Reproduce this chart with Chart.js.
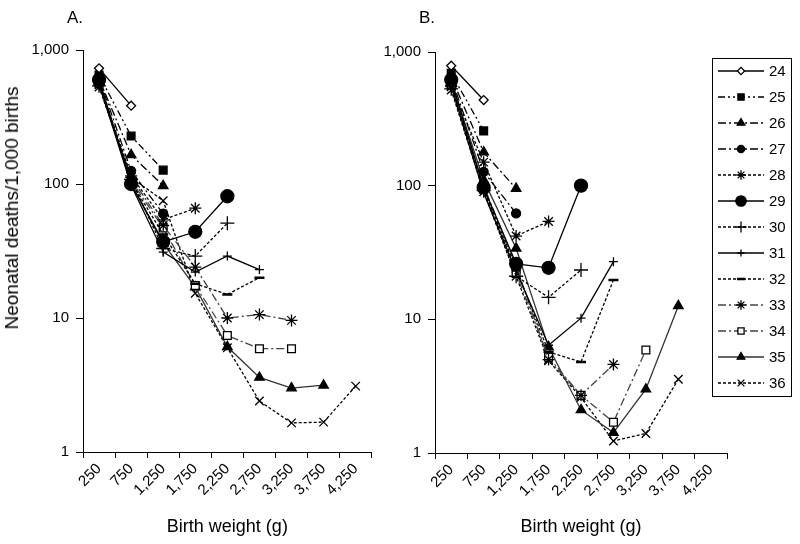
<!DOCTYPE html>
<html><head><meta charset="utf-8">
<script src="https://cdn.jsdelivr.net/npm/chart.js@4.4.0/dist/chart.umd.min.js"></script>
<style>
body{margin:0;background:#fff;width:800px;height:544px;overflow:hidden;position:relative;font-family:Arial,"Liberation Sans",sans-serif}
#wa{position:absolute;left:0;top:0;width:380px;height:544px}
#wb{position:absolute;left:380px;top:0;width:420px;height:544px}
.lab{position:absolute;font-size:17px;color:#000;line-height:20px}
#ytitle{position:absolute;left:12px;top:208px;font-size:19px;white-space:nowrap;color:#000;transform:translate(-50%,-50%) rotate(-90deg);line-height:22px}
</style></head><body>
<div id="wa"><canvas id="ca"></canvas></div>
<div id="wb"><canvas id="cb"></canvas></div>
<div class="lab" style="left:67px;top:8px">A.</div>
<div class="lab" style="left:419px;top:8px">B.</div>
<div id="ytitle">Neonatal deaths/1,000 births</div>
<script>
const weights = ['250','750','1,250','1,750','2,250','2,750','3,250','3,750','4,250'];
const gestAges = ['24','25','26','27','28','29','30','31','32','33','34','35','36'];
const yTicks = [1, 10, 100, 1000];

// Panel A values (deaths per 1,000 births)
const A24 = [730, 384];
const A25 = [650, 228, 127];
const A26 = [610, 165, 97];
const A27 = [620, 125, 60];
const A28 = [570, 115, 54, 66];
const A29 = [600, 100, 37, 44, 81];
const A30 = [540, 108, 33, 29, 51];
const A31 = [560, 98, 31, 22, 29, 23];
const A32 = [580, 104, 42, 18, 15, 20];
const A33 = [550, 112, 49, 24, 10, 10.6, 9.6];
const A34 = [560, 106, 47, 17.5, 7.4, 5.9, 5.9];
const A35 = [590, 100, 36, 17, 6.1, 3.6, 3.0, 3.15];
const A36 = [530, 112, 75, 15.3, 6.0, 2.4, 1.65, 1.67, 3.1];

// Panel B values
const B24 = [789, 437];
const B25 = [692, 257];
const B26 = [650, 178, 95];
const B27 = [640, 127, 62];
const B28 = [560, 150, 42, 54];
const B29 = [620, 97, 26, 24.3, 100];
const B30 = [530, 92, 21, 14.6, 23.4];
const B31 = [560, 88, 23, 6.4, 10.2, 27];
const B32 = [580, 95, 24, 5.7, 4.8, 19.7];
const B33 = [550, 100, 25, 5.0, 2.7, 4.6];
const B34 = [570, 96, 22, 5.2, 2.7, 1.7, 5.9];
const B35 = [600, 110, 34, 6.2, 2.1, 1.42, 3.0, 12.6];
const B36 = [520, 90, 21, 4.9, 2.6, 1.23, 1.40, 3.56];

const panelA = [A24,A25,A26,A27,A28,A29,A30,A31,A32,A33,A34,A35,A36];
const panelB = [B24,B25,B26,B27,B28,B29,B30,B31,B32,B33,B34,B35,B36];

const DD = [8,3,2,3], SD = [3,2];
const styles = [
  {ps:'rectRot', r:4.5, fill:'#fff', dash:[], col:'#000'},
  {ps:'rect', r:5.5, fill:'#000', dash:[7,3,2,3,2,3], col:'#000'},
  {ps:'triangle', r:5.5, fill:'#000', dash:DD, col:'#000'},
  {ps:'circle', r:4.5, fill:'#000', dash:DD, col:'#000'},
  {ps:'star', r:6, fill:'#000', dash:SD, col:'#000'},
  {ps:'circle', r:6.5, fill:'#000', dash:[], col:'#000'},
  {ps:'cross', r:7, fill:'#000', dash:SD, col:'#000'},
  {ps:'cross', r:4.5, fill:'#000', dash:[], col:'#000'},
  {ps:'line', r:5, fill:'#000', dash:SD, col:'#000', bw:2.5},
  {ps:'star', r:6, fill:'#000', dash:DD, col:'#444'},
  {ps:'rect', r:5.5, fill:'#fff', dash:DD, col:'#444'},
  {ps:'triangle', r:5.5, fill:'#000', dash:[], col:'#333'},
  {ps:'crossRot', r:6, fill:'#000', dash:SD, col:'#000'}
];

function makeDatasets(panel){
  return panel.map((vals,i)=>{
    const s = styles[i];
    const data = weights.map((w,j)=> vals[j]===undefined ? null : vals[j]);
    return {
      label: gestAges[i], data,
      borderColor: s.col, borderWidth: 1.3, borderDash: s.dash,
      pointStyle: s.ps, pointRadius: s.r, pointBorderColor:'#000',
      pointBackgroundColor: s.fill, pointBorderWidth: s.bw || 1.3,
      fill:false, tension:0, spanGaps:false
    };
  });
}

const FONT = 'Arial, "Liberation Sans", sans-serif';
Chart.defaults.font.family = FONT;
Chart.defaults.color = '#000';

function makeOptions(opt){
  return {
    responsive:true, maintainAspectRatio:false, animation:false,
    layout:{padding:{left:0, right:opt.padR, top:opt.padT, bottom:0}},
    plugins:{legend:{display:false}, tooltip:{enabled:false}},
    scales:{
      x:{
        type:'category', offset:true,
        grid:{display:true, drawOnChartArea:false, drawTicks:true, tickLength:6, color:'#000', offset:true},
        border:{display:true, color:'#000', width:1},
        ticks:{font:{size:15}, color:'#000', maxRotation:45, minRotation:45, padding:2, autoSkip:false},
        title:{display:true, text:'Birth weight (g)', font:{size:18}, color:'#000', padding:{top:0,bottom:6}},
        afterFit(s){ s.height = opt.xH; }
      },
      y:{
        type:'logarithmic', min:1, max:1000,
        afterBuildTicks(s){ s.ticks = yTicks.map(v=>({value:v})); },
        grid:{display:true, drawOnChartArea:false, drawTicks:true, tickLength:7, color:'#000'},
        border:{display:true, color:'#000', width:1},
        ticks:{font:{size:15}, color:'#000', padding:7, callback:(v)=>Number(v).toLocaleString('en-US')},
        afterFit(s){ s.width = opt.yW; }
      }
    }
  };
}

const legendPlugin = {
  id:'customLegend',
  afterDraw(chart){
    const ctx = chart.ctx; ctx.save();
    const x0 = 332, y0 = 58, w = 79, h = 338;
    ctx.strokeStyle = '#000'; ctx.lineWidth = 1; ctx.setLineDash([]);
    ctx.fillStyle = '#fff'; ctx.fillRect(x0, y0, w, h);
    ctx.strokeRect(x0 + 0.5, y0 + 0.5, w, h);
    chart.data.datasets.forEach((ds, i) => {
      const y = 71 + i * 26;
      ctx.strokeStyle = ds.borderColor; ctx.lineWidth = ds.borderWidth;
      ctx.setLineDash(ds.borderDash || []);
      ctx.beginPath(); ctx.moveTo(x0 + 6, y); ctx.lineTo(x0 + 52, y); ctx.stroke();
      ctx.setLineDash([]);
      ctx.strokeStyle = ds.pointBorderColor; ctx.fillStyle = ds.pointBackgroundColor;
      ctx.lineWidth = ds.pointBorderWidth;
      Chart.helpers.drawPoint(ctx, {pointStyle:ds.pointStyle, radius:ds.pointRadius*0.8, borderWidth:ds.pointBorderWidth, rotation:0}, x0 + 29, y);
      ctx.fillStyle = '#000'; ctx.font = '15px ' + FONT; ctx.textBaseline = 'middle'; ctx.textAlign = 'left';
      ctx.fillText(ds.label, x0 + 57, y + 1);
    });
    ctx.restore();
  }
};

new Chart(document.getElementById('ca'), {
  type:'line',
  data:{labels:weights, datasets:makeDatasets(panelA)},
  options:makeOptions({padR:8, padT:50, xH:92, yW:83})
});
new Chart(document.getElementById('cb'), {
  type:'line',
  data:{labels:weights, datasets:makeDatasets(panelB)},
  options:makeOptions({padR:73, padT:52, xH:91, yW:55}),
  plugins:[legendPlugin]
});
</script>
</body></html>
